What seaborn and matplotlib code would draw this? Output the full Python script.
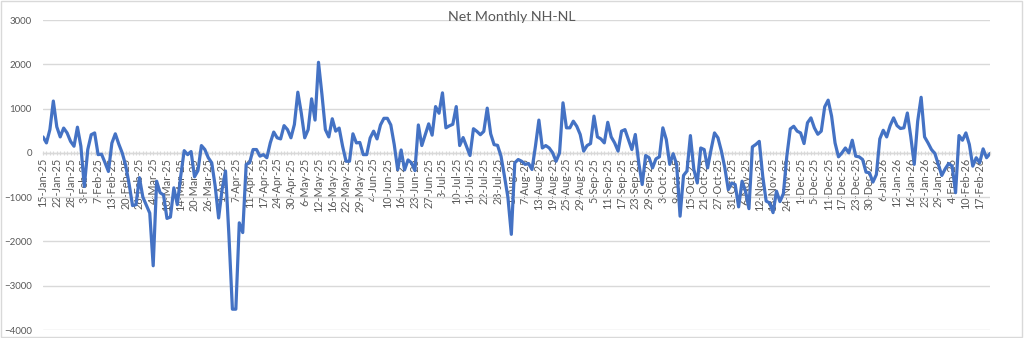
import matplotlib
matplotlib.use("Agg")
import matplotlib.pyplot as plt
import seaborn as sns
import pandas as pd
import numpy as np

# Net new highs minus new lows, one value per trading day
net_nh_nl = [
    360, 225, 525, 1170, 590, 360, 560, 450, 260, 150,
    580, 150, -760, 75, 410, 450, -40, -30, -220, -420,
    220, 430, 200, 0, -280, -700, -1190, -1170, -560, -1000,
    -1180, -1360, -2550, -640, -900, -950, -1480, -1450, -790, -1170,
    -520, 50, -40, 30, -540, -400, 165, 75, -110, -225,
    -750, -1470, -830, -410, -1880, -3530, -3530, -1580, -1800, -260,
    -225, 75, 75, -75, -40, -110, 225, 470, 340, 315,
    615, 525, 340, 640, 1370, 900, 340, 525, 1220, 740,
    2045, 1320, 525, 360, 770, 490, 560, 150, -190, -190,
    430, 225, 235, -40, -40, 335, 490, 315, 630, 780,
    780, 630, 185, -380, 65, -385, -160, -225, -400, 630,
    165, 410, 655, 400, 1045, 895, 1355, 565, 610, 645,
    1045, 165, 345, 145, -60, 545, 485, 410, 485, 1010,
    430, 185, 170, -75, -525, -1000, -1840, -225, -150, -190,
    -260, -240, -375, 150, 740, 110, 165, 110, 0, -190,
    0, 1130, 565, 565, 715, 600, 415, 40, 165, 210,
    830, 360, 315, 225, 690, 360, 225, 40, 490, 525,
    300, 75, 415, -225, -715, -60, -110, -340, -135, -90,
    565, 300, -260, -20, -260, -1430, -510, -410, 390, -375,
    -680, 110, 75, -340, 75, 450, 340, 40, -340, -830,
    -680, -715, -1220, -640, -865, -1260, 135, 190, 260, -525,
    -1090, -1130, -1350, -865, -1100, -920, -75, 540, 600, 490,
    450, 210, 680, 790, 565, 420, 490, 1040, 1190, 830,
    225, -90, 0, 110, 0, 285, -75, -90, -150, -435,
    -450, -660, -490, 315, 510, 360, 615, 790, 615, 550,
    565, 900, 360, -260, 715, 1255, 360, 225, 75, -15,
    -260, -510, -360, -240, -300, -900, 390, 285, 450, 190,
    -300, -110, -225, 90, -110, -15,
]

# Trading calendar: first session and exchange holidays in the span
first_session = "2025-01-15"
market_holidays = [
    "2025-01-20", "2025-02-17", "2025-04-18", "2025-05-26", "2025-06-19",
    "2025-07-04", "2025-09-01", "2025-11-27", "2025-12-25", "2026-01-01",
    "2026-01-19", "2026-02-16",
]
label_every = 4

sessions = pd.bdate_range(first_session, periods=len(net_nh_nl), freq="C",
                          holidays=market_holidays)
session_labels = [f"{d.day}-{d:%b-%y}" for d in sessions]

df = pd.DataFrame({"pos": np.arange(len(net_nh_nl)), "net": net_nh_nl,
                   "session": session_labels})

sns.set_theme(style="white")
plt.rcParams["font.family"] = ["Lato", "DejaVu Sans"]

fig = plt.figure(figsize=(10.24, 3.38), dpi=100)
ax = fig.add_axes([43 / 1024, 1 - 330 / 338, (990 - 43) / 1024, (330 - 20) / 338])

grid_color = "#d9d9d9"
text_color = "#595959"

sns.lineplot(data=df, x="pos", y="net", ax=ax, color="#4472C4",
             linewidth=2.3, solid_joinstyle="round", zorder=3)

# Category axis crosses the value axis at zero
for side in ("top", "right", "left"):
    ax.spines[side].set_visible(False)
ax.spines["bottom"].set_position(("data", 0))
ax.spines["bottom"].set_color(grid_color)
ax.spines["bottom"].set_linewidth(1.0)

ax.set_ylim(-4000, 3000)
ax.set_yticks(np.arange(-4000, 3001, 1000))
ax.yaxis.grid(True, color=grid_color, linewidth=1.0)
ax.set_axisbelow(True)

ax.set_xlim(0, len(net_nh_nl) - 1)
ax.set_xticks(df["pos"][::label_every])
ax.set_xticklabels(df["session"][::label_every])
ax.set_xticks(df["pos"], minor=True)
ax.tick_params(axis="x", which="both", direction="inout", length=3,
               width=0.8, color=grid_color, pad=2, bottom=True,
               labelrotation=90, labelsize=7.8, labelcolor=text_color)
ax.tick_params(axis="y", length=0, pad=8, labelsize=7.0, labelcolor=text_color)
for lbl in ax.get_xticklabels():
    lbl.set_va("top")
    lbl.set_ha("center")
ax.set_xlabel("")
ax.set_ylabel("")

fig.text(0.5, 1 - 21 / 338, "Net Monthly NH-NL", ha="center", va="baseline",
         fontsize=10.2, color=text_color)

fig.patches.append(plt.Rectangle((0.001, 0.002), 0.997, 0.995,
                                 transform=fig.transFigure, fill=False,
                                 edgecolor=grid_color, linewidth=1.0))

fig.savefig("out.png", dpi=100, facecolor="white")
